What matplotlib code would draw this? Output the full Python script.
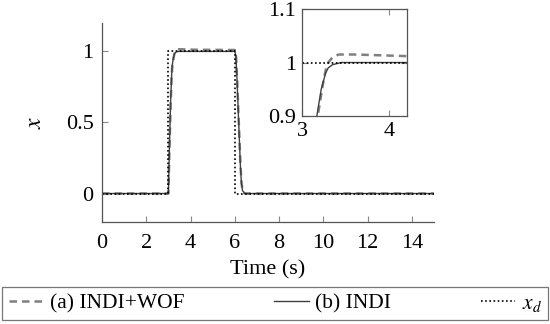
import numpy as np
import matplotlib
matplotlib.use("Agg")
import matplotlib.pyplot as plt

plt.rcParams['font.family'] = ['Liberation Serif', 'DejaVu Serif']
plt.rcParams['mathtext.fontset'] = 'stix'
plt.rcParams['font.size'] = 16

# reference x_d
t_ref = [0, 3, 3, 6, 6, 15]
x_ref = [0, 0, 1, 1, 0, 0]

# (b) INDI
t_indi = [0, 3.0, 3.05, 3.1, 3.15, 3.17, 3.22, 3.27, 3.3, 3.35, 3.45, 6.0, 6.05, 6.1,
          6.15, 6.2, 6.25, 6.3, 6.35, 6.45, 15]
x_indi = [0, 0, 0.35, 0.65, 0.85, 0.9, 0.95, 0.98, 0.99, 0.996, 1.0, 1.0, 0.97, 0.8,
          0.6, 0.4, 0.2, 0.07, 0.02, 0.0, 0]

# (a) INDI+WOF
t_wof = [0, 3.0, 3.05, 3.1, 3.15, 3.18, 3.21, 3.24, 3.27, 3.3, 3.35, 3.42, 3.6, 4.0, 4.2,
         6.0, 6.05, 6.1, 6.15, 6.2, 6.25, 6.3, 6.35, 6.45, 15]
x_wof = [0, 0, 0.33, 0.63, 0.84, 0.9, 0.93, 0.96, 0.985, 1.0, 1.01, 1.015, 1.015, 1.013, 1.012,
         1.01, 0.98, 0.82, 0.62, 0.42, 0.22, 0.08, 0.02, 0.0, 0]

fig = plt.figure(figsize=(5.5, 3.24), dpi=100)
ax = fig.add_axes([0.1855, 0.315, 0.6036, 0.614])

def draw(a):
    a.plot(t_wof, x_wof, color='#808080', ls=(0, (3, 2)), lw=1.8, label='(a) INDI+WOF')
    a.plot(t_indi, x_indi, color='#404040', ls='-', lw=1.0, label='(b) INDI')
    a.plot(t_ref, x_ref, color='black', ls=(0, (1, 1.5)), lw=1.2, label='$x_d$')

draw(ax)
ax.set_xlim(0, 15)
ax.set_ylim(-0.2, 1.2)
ax.set_xticks(np.arange(0, 15, 2))
ax.set_yticks([0, 0.5, 1])
ax.set_yticklabels(['0', '0.5', '1'])
ax.spines['top'].set_visible(False)
ax.spines['right'].set_visible(False)
for s in ['left', 'bottom']:
    ax.spines[s].set_color('#555555')
    ax.spines[s].set_linewidth(0.9)
ax.tick_params(direction='in', length=4, color='#888888', pad=6)
ax.tick_params(axis='x', pad=9)
ax.set_xlabel('Time (s)', labelpad=5)
ax.set_ylabel('$x$', rotation=90, labelpad=14, fontsize=17)

# inset zoom
axi = fig.add_axes([0.549, 0.642, 0.191, 0.330])
draw(axi)
axi.set_xlim(3, 4.2)
axi.set_ylim(0.9, 1.1)
axi.set_xticks([3, 4])
axi.set_yticks([0.9, 1.0, 1.1])
axi.set_yticklabels(['0.9', '1', '1.1'])
for s in axi.spines.values():
    s.set_color('#555555')
    s.set_linewidth(0.9)
axi.tick_params(direction='in', length=4, color='#888888', top=True, right=True, pad=4)

h, l = ax.get_legend_handles_labels()
leg = fig.legend(h, l, loc='lower left', bbox_to_anchor=(0.004, 0.012, 0.993, 0.102),
                 ncol=3, mode='expand', frameon=True, fancybox=False, edgecolor='#555555',
                 handlelength=1.6, handletextpad=0.3, borderaxespad=0, borderpad=0.3,
                 fontsize=15.5)
leg.get_frame().set_linewidth(0.9)

fig.savefig('out.png', dpi=100)
